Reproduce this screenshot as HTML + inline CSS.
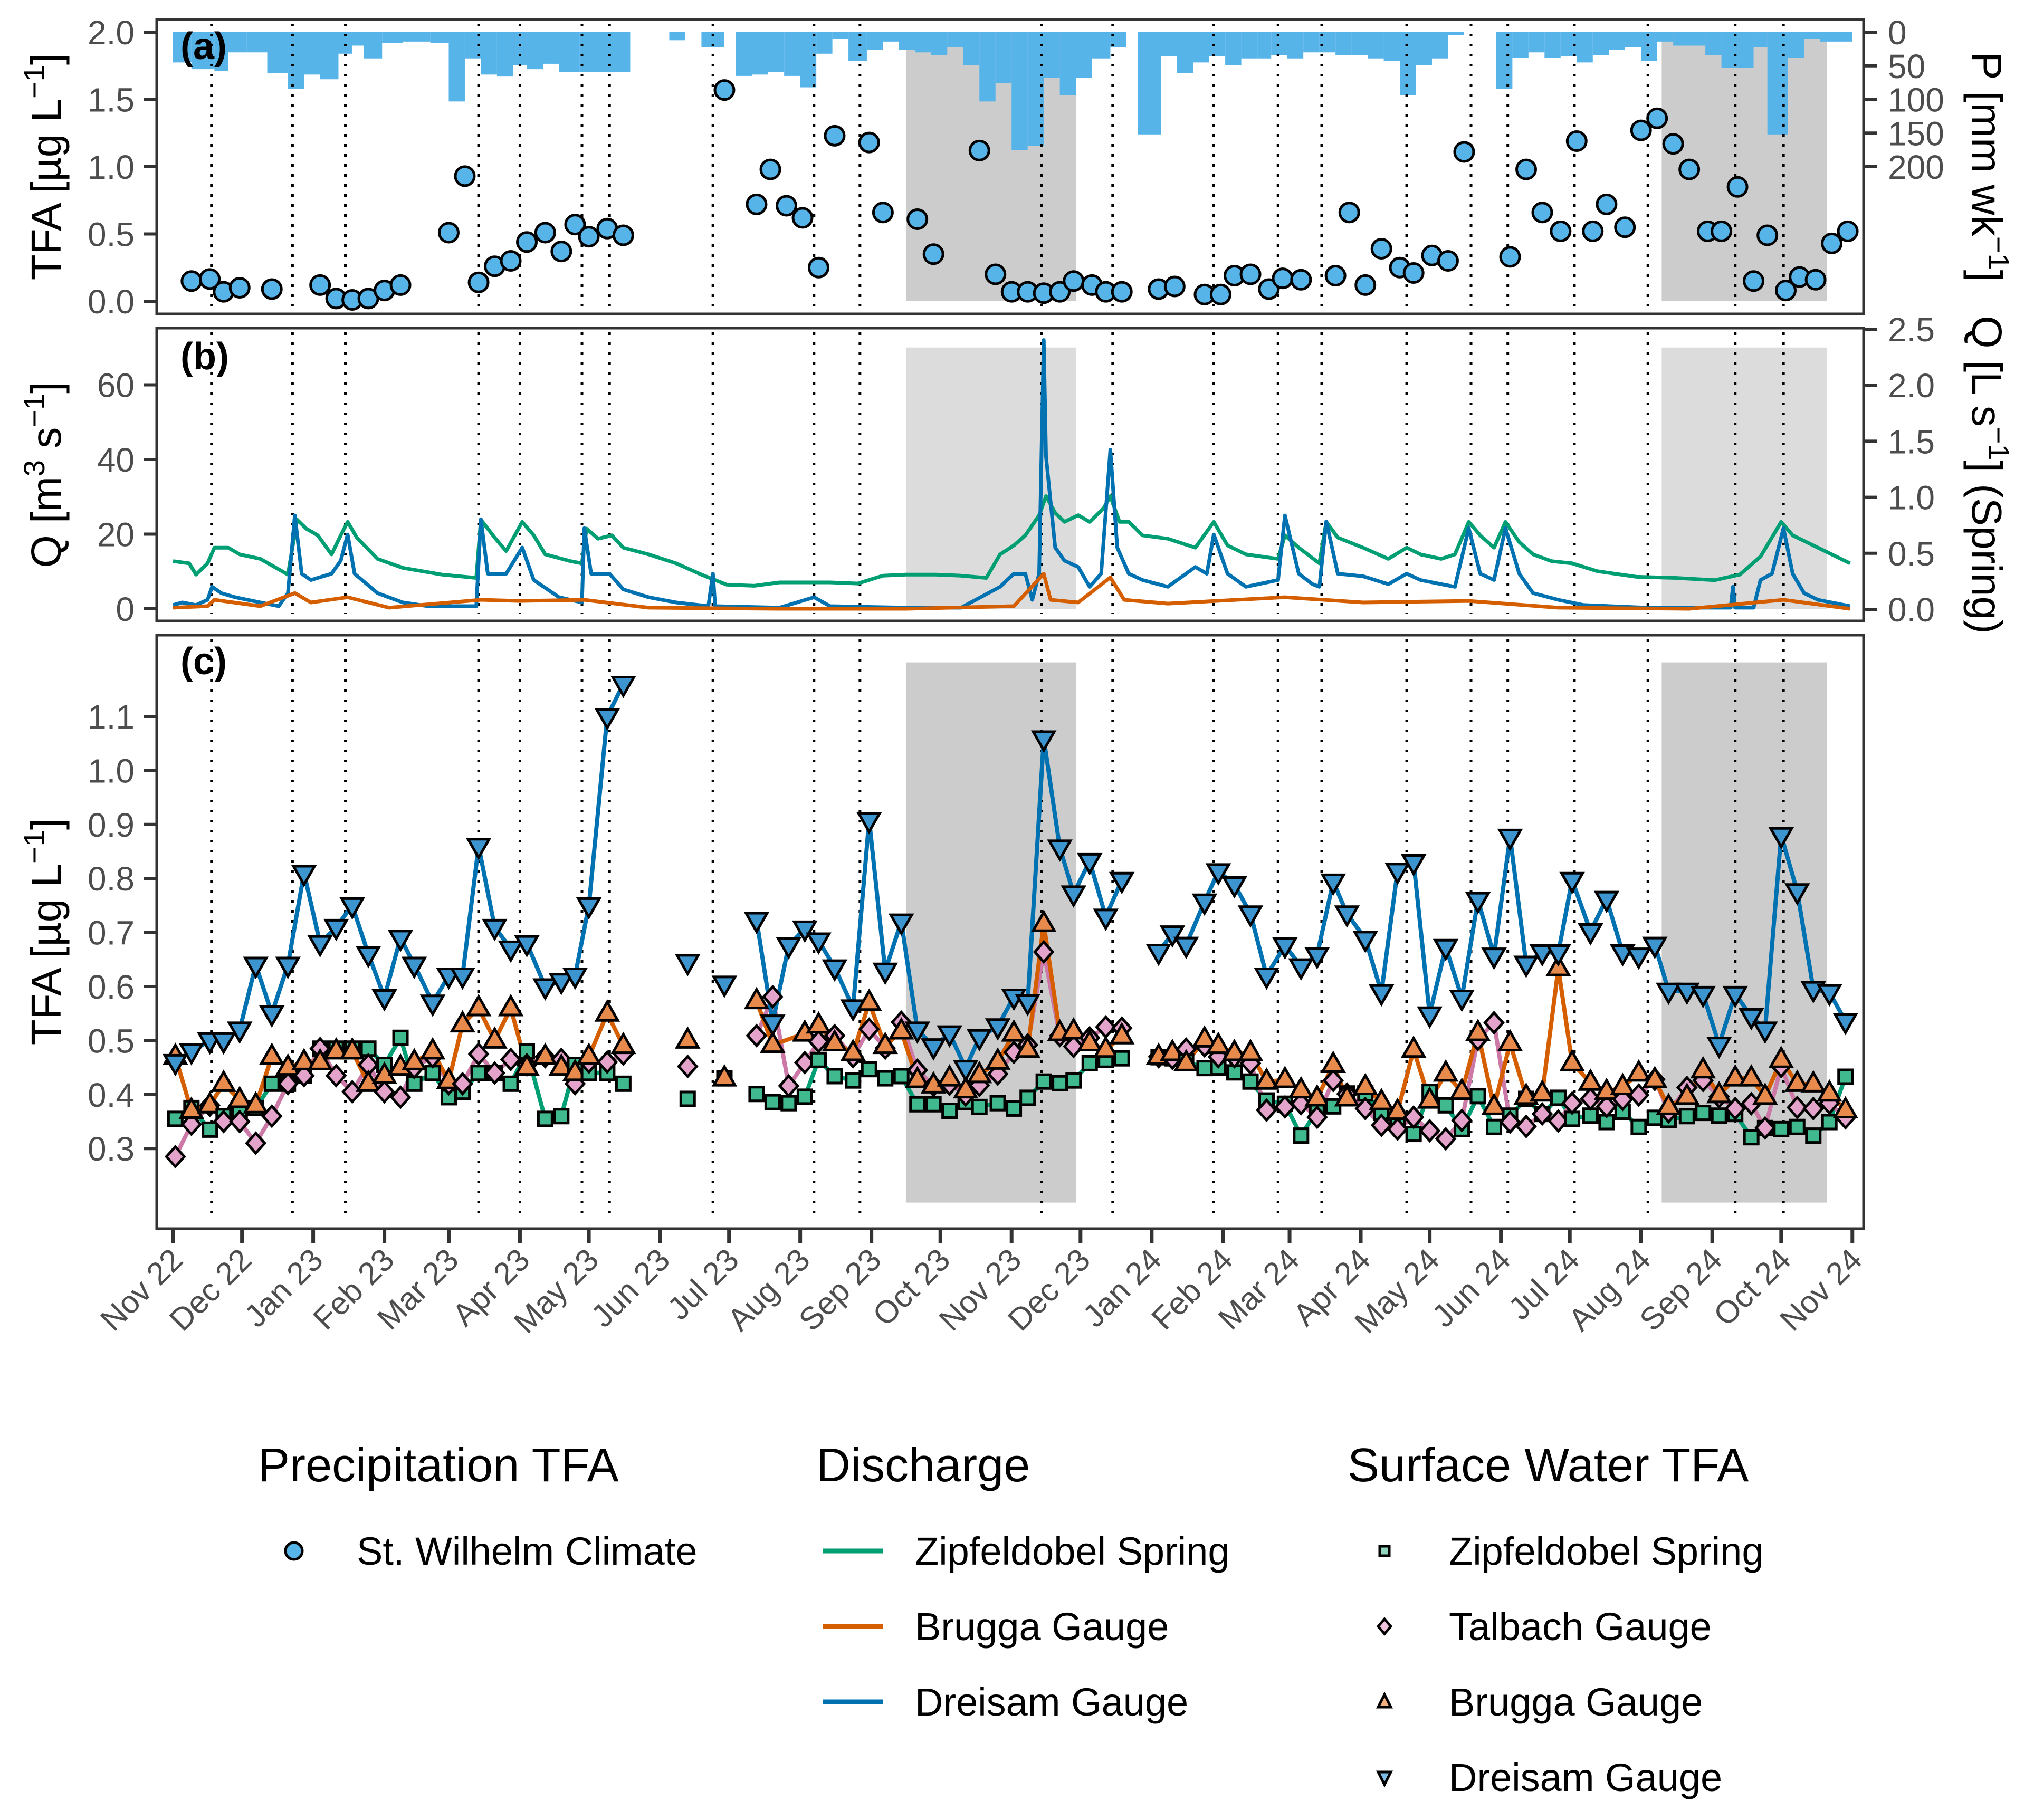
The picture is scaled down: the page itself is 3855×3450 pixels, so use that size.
<!DOCTYPE html>
<html><head><meta charset="utf-8"><style>
html,body{margin:0;padding:0;background:#fff}
svg{display:block;font-family:"Liberation Sans",Arial,sans-serif}
</style></head><body>
<svg id="fig" xmlns="http://www.w3.org/2000/svg" width="3855" height="3450" viewBox="0 0 3855 3450">
<rect x="0" y="0" width="3855" height="3450" fill="#fff"/>
<g id="layer"></g>
<g font-family="Liberation Sans, Arial, sans-serif" fill="#000">
 <text x="489" y="2808" font-size="90">Precipitation TFA</text>
 <circle cx="557" cy="2940" r="16" fill="#56B4E9" stroke="#000" stroke-width="5"/>
 <text x="676" y="2966" font-size="74">St. Wilhelm Climate</text>
 <text x="1547" y="2808" font-size="90">Discharge</text>
 <line x1="1559" x2="1674" y1="2940" y2="2940" stroke="#009E73" stroke-width="9"/>
 <text x="1734" y="2966" font-size="74">Zipfeldobel Spring</text>
 <line x1="1559" x2="1674" y1="3083" y2="3083" stroke="#D55E00" stroke-width="9"/>
 <text x="1734" y="3109" font-size="74">Brugga Gauge</text>
 <line x1="1559" x2="1674" y1="3226" y2="3226" stroke="#0072B2" stroke-width="9"/>
 <text x="1734" y="3252" font-size="74">Dreisam Gauge</text>
 <text x="2554" y="2808" font-size="90">Surface Water TFA</text>
 <rect x="2615" y="2931" width="18" height="18" fill="#8fd6bd" stroke="#000" stroke-width="5"/>
 <text x="2746" y="2966" font-size="74">Zipfeldobel Spring</text>
 <polygon points="2624,3069 2636,3083 2624,3097 2612,3083" fill="#f0c4de" stroke="#000" stroke-width="5"/>
 <text x="2746" y="3109" font-size="74">Talbach Gauge</text>
 <polygon points="2624,3212 2636,3236 2612,3236" fill="#f2b07e" stroke="#000" stroke-width="5"/>
 <text x="2746" y="3252" font-size="74">Brugga Gauge</text>
 <polygon points="2612,3359 2636,3359 2624,3383" fill="#7fbde6" stroke="#000" stroke-width="5"/>
 <text x="2746" y="3395" font-size="74">Dreisam Gauge</text>
</g>
</svg>
<script>
// ---------- data ----------
// day offsets from 2022-11-01
const precipTfaDays = [8,16,22,29,43,64,71,78,85,92,99,120,127,133,140,147,154,162,169,175,181,189,196,240,254,260,267,274,281,288,303,309,324,331,351,358,365,372,379,386,392,400,406,413,429,436,449,456,462,469,477,483,491,506,512,519,526,534,540,548,555,562,582,589,596,604,611,618,624,632,639,646,653,660,668,674,681,688,694,702,708,715,722,729];
const precipTfaValues = [0.15,0.165,0.07,0.10,0.09,0.12,0.02,0.01,0.02,0.08,0.12,0.51,0.93,0.14,0.26,0.30,0.44,0.51,0.37,0.57,0.48,0.54,0.49,1.57,0.72,0.98,0.71,0.62,0.25,1.23,1.18,0.66,0.61,0.35,1.12,0.20,0.07,0.07,0.06,0.07,0.15,0.12,0.07,0.07,0.09,0.11,0.05,0.05,0.19,0.20,0.09,0.17,0.16,0.19,0.66,0.12,0.39,0.25,0.21,0.34,0.30,1.11,0.33,0.98,0.66,0.52,1.19,0.52,0.72,0.55,1.27,1.36,1.17,0.98,0.52,0.52,0.85,0.15,0.49,0.08,0.18,0.16,0.43,0.52];
const precipWeekStart = [0,8,18,24,32,41,50,57,64,72,78,83,91,100,112,120,127,134,141,148,154,161,168,177,185,199,216,223,230,240,245,252,259,266,273,280,287,294,302,309,316,323,330,337,344,351,358,365,372,379,386,393,400,408,415,420,430,437,444,451,458,465,472,478,485,492,499,506,513,520,527,534,541,548,555,562,576,583,590,597,604,611,618,625,632,639,646,653,660,667,674,681,688,694,703,710,717,731];
const precipMM = [45,55,58,30,30,61,84,63,70,32,20,39,16,14,16,103,39,63,66,49,55,47,59,59,59,null,12,null,22,null,65,63,59,65,82,32,10,43,26,14,26,30,34,22,49,103,76,175,169,68,94,68,39,22,null,152,36,61,45,36,49,39,39,34,39,30,30,34,34,39,43,94,49,39,4,null,84,38,30,38,36,45,34,26,22,43,14,20,20,34,53,53,22,152,38,10,14,null];
const shadePeriods = [[319,393],[648,720]];
const eventDays = [16.7,52,75,133,151,178,190,235,279,299,378,409,453,481,500,537,565,581,610,642,680,701];

const springDays = [0,7,10,15,18,24,29,38,50,54,58,63,69,73,76,80,89,100,117,132,134,140,145,152,157,162,173,178,180,185,191,196,207,219,230,241,253,264,286,298,309,319,332,343,354,360,366,371,377,380,384,388,394,399,405,408,412,416,422,433,445,453,459,467,481,484,490,499,502,507,518,529,537,543,552,558,564,569,575,580,586,592,600,609,620,637,654,671,682,691,700,705,716,730];
const springQ = [0.43,0.41,0.31,0.41,0.55,0.55,0.49,0.45,0.31,0.80,0.72,0.66,0.49,0.66,0.78,0.64,0.45,0.37,0.31,0.28,0.80,0.64,0.52,0.78,0.66,0.49,0.43,0.41,0.72,0.63,0.66,0.55,0.49,0.41,0.31,0.22,0.21,0.24,0.24,0.23,0.30,0.31,0.31,0.30,0.28,0.49,0.57,0.66,0.84,1.01,0.86,0.78,0.84,0.78,0.90,1.01,0.78,0.78,0.66,0.63,0.55,0.78,0.57,0.49,0.45,0.66,0.55,0.41,0.78,0.64,0.55,0.45,0.55,0.49,0.45,0.49,0.78,0.66,0.55,0.78,0.60,0.49,0.43,0.41,0.34,0.29,0.28,0.26,0.31,0.47,0.78,0.66,0.55,0.41];
const dreisamQDays = [0,4,10,15,17,21,27,38,46,50,53,56,60,69,73,76,79,89,100,111,123,132,134,137,145,152,157,168,178,179,182,190,196,207,219,233,235,236,264,279,286,319,343,360,366,371,374,377,379,380,384,388,394,399,404,408,411,416,422,433,445,450,453,459,467,481,484,490,496,499,502,507,518,529,537,543,552,558,564,569,575,580,586,592,603,614,641,671,678,679,680,688,691,696,701,705,710,716,730];
const dreisamQ = [1.0,1.7,1.0,2.4,5.9,4.2,3.1,1.7,0.7,4.2,25,9.4,7.7,9.4,12.9,19.9,9.4,4.2,1.7,0.7,0.7,0.7,24,9.4,9.4,16.4,7.7,3.1,1.7,21.6,9.4,9.4,5.2,3.1,1.7,0.7,9.4,0.7,0.3,3.1,0.7,0.3,0.3,5.9,9.4,9.4,2.4,9.4,72,40.8,16.4,12.9,11.2,5.9,9.4,42.6,16.4,9.4,7.7,5.9,11.2,9.4,19.9,9.4,5.9,7.7,25,9.4,6.6,5.9,23.4,9.4,8.7,6.6,9.4,7.7,6.6,5.9,21.6,9.4,7.7,21.6,9.4,4.2,2.4,1.0,0.3,0.3,0.3,5.9,0.3,0.3,7.7,9.4,21.6,9.4,4.2,2.4,0.7];
const bruggaQDays = [0,15,18,38,53,60,76,94,134,151,179,207,264,319,366,379,382,394,408,414,433,484,518,564,603,660,701,730];
const bruggaQ = [0.3,0.7,2.4,0.7,4.2,1.7,3.1,0.3,2.4,2.1,2.4,0.3,0,0,0.7,9.4,2.4,1.7,8.4,2.4,1.4,3.1,1.7,2.1,0.3,0,2.4,0];

const sampleDays = [1,8,16,22,29,36,43,50,57,64,71,78,85,92,99,105,113,120,126,133,140,147,154,162,169,175,181,189,196,
 224,240,
 254,261,268,275,281,288,296,303,310,317,324,331,338,345,351,359,366,372,379,386,392,399,406,413,
 429,435,441,449,455,462,469,476,484,491,498,505,511,519,526,533,540,547,554,561,568,575,582,589,596,603,609,617,624,631,638,645,651,659,666,673,680,687,693,700,707,714,721,728];
const segmentBreaks = [200,230,245,420];
const dreisamTfa = [0.46,0.48,0.50,0.50,0.52,0.64,0.55,0.64,0.81,0.68,0.71,0.75,0.66,0.58,0.69,0.64,0.57,0.62,0.62,0.86,0.71,0.67,0.68,0.60,0.61,0.62,0.75,1.10,1.16,
 0.645,0.605,
 0.723,0.533,0.676,0.707,0.685,0.635,0.561,0.908,0.629,0.72,0.52,0.489,0.513,0.449,0.506,0.526,0.581,0.571,1.059,0.857,0.772,0.832,0.729,0.797,
 0.664,0.698,0.677,0.757,0.813,0.789,0.735,0.62,0.676,0.637,0.658,0.794,0.735,0.688,0.589,0.814,0.830,0.548,0.673,0.579,0.760,0.657,0.877,0.642,0.663,0.663,0.797,0.702,0.762,0.663,0.657,0.677,0.592,0.592,0.586,0.492,0.586,0.545,0.520,0.880,0.776,0.595,0.589,0.536];
const bruggaTfa = [0.47,0.37,0.38,0.42,0.39,0.38,0.47,0.45,0.46,0.46,0.48,0.48,0.42,0.435,0.45,0.46,0.48,0.425,0.53,0.56,0.50,0.56,0.45,0.47,0.45,0.44,0.47,0.55,0.49,
 0.50,0.43,
 0.573,0.492,null,0.513,0.528,0.495,0.477,0.57,0.49,0.517,0.427,0.417,0.43,0.408,0.436,0.461,0.513,0.483,0.716,0.514,0.517,0.495,0.483,0.508,
 0.47,0.477,0.458,0.502,0.49,0.477,0.477,0.424,0.427,0.408,0.393,0.455,0.393,0.414,0.386,0.368,0.483,0.389,0.439,0.405,0.514,0.377,0.495,0.396,0.402,0.634,0.458,0.422,0.405,0.414,0.439,0.427,0.377,0.396,0.445,0.399,0.430,0.430,0.396,0.464,0.420,0.419,0.402,0.371];
const talbachTfa = [0.285,0.345,0.38,0.35,0.35,0.31,0.36,0.42,0.435,0.485,0.435,0.405,0.455,0.405,0.395,0.45,0.47,0.42,0.42,0.475,0.44,0.465,0.455,0.47,0.465,0.42,0.46,0.46,0.475,
 0.452,null,
 0.509,0.581,0.416,0.459,0.498,0.509,0.47,0.521,0.486,0.534,0.445,0.417,0.419,0.399,0.417,0.438,0.478,0.492,0.664,0.509,0.489,0.505,0.525,0.523,
 0.47,0.467,0.484,0.49,0.47,0.47,0.458,0.371,0.377,0.383,0.358,0.426,0.401,0.374,0.343,0.336,0.358,0.333,0.318,0.352,0.502,0.533,0.349,0.341,0.364,0.351,0.384,0.392,0.378,0.391,0.399,0.428,0.368,0.413,0.426,0.396,0.374,0.383,0.338,0.452,0.376,0.374,0.384,0.357];
const zipfTfa = [0.355,0.375,0.335,0.36,0.37,0.375,0.42,0.42,0.435,0.485,0.485,0.485,0.485,0.455,0.505,0.42,0.44,0.395,0.405,0.44,0.44,0.42,0.48,0.355,0.36,0.455,0.44,0.44,0.42,
 0.392,0.43,
 0.401,0.386,0.384,0.396,0.464,0.434,0.426,0.447,0.43,0.434,0.382,0.382,0.37,0.386,0.377,0.384,0.374,0.394,0.424,0.421,0.426,0.458,0.464,0.467,
 0.469,0.467,0.461,0.449,0.45,0.441,0.424,0.389,0.383,0.324,0.371,0.378,0.402,0.402,0.366,0.347,0.327,0.405,0.380,0.336,0.397,0.340,0.361,0.392,0.364,0.394,0.355,0.361,0.349,0.368,0.340,0.357,0.353,0.36,0.366,0.361,0.364,0.321,0.338,0.336,0.340,0.324,0.349,0.433];

const tfaTicksA = [0,0.5,1.0,1.5,2.0];
const pTicks = [0,50,100,150,200];
const qTicks = [0,20,40,60];
const springTicks = [0,0.5,1.0,1.5,2.0,2.5];
const tfaTicksC = [0.3,0.4,0.5,0.6,0.7,0.8,0.9,1.0,1.1];
const monthNames = ["Jan","Feb","Mar","Apr","May","Jun","Jul","Aug","Sep","Oct","Nov","Dec"];

// ---------- scales ----------
const L = 297, R = 3532;
const X = d => 328 + d * 4.354;
const YA = v => 571 - v * 255;
const YP = mm => 61 + mm * 1.275;
const YB = q => 1154 - q * 7.075;
const YS = s => 1155 - s * 212.4;
const YC = v => 1358 + (1.1 - v) * 1024;
const panels = [{top:37,bot:595},{top:622,bot:1177},{top:1204,bot:2329}];

const NS = "http://www.w3.org/2000/svg";
const layer = document.getElementById('layer');
function mk(tag, attrs, parent) {
  const e = document.createElementNS(NS, tag);
  for (const k in attrs) e.setAttribute(k, attrs[k]);
  (parent || layer).appendChild(e);
  return e;
}
function fmt1(v){return v.toFixed(1);}

// shading
shadePeriods.forEach(p => {
  const a = mk('rect', {x:X(p[0]), y:YA(2.0), width:X(p[1])-X(p[0]), height:YA(0)-YA(2.0), fill:'#cccccc'});
  
  
  const b = mk('rect', {x:X(p[0]), y:YB(70), width:X(p[1])-X(p[0]), height:YB(0)-YB(70), fill:'#dcdcdc'});
  
  
  const c = mk('rect', {x:X(p[0]), y:YC(1.2), width:X(p[1])-X(p[0]), height:YC(0.2)-YC(1.2), fill:'#cccccc'});
  
  
});

// precipitation bars
for (let i = 0; i < precipMM.length - 1; i++) {
  if (precipMM[i] === null) continue;
  const bar = mk('rect', {x:X(precipWeekStart[i]), y:YP(0), width:X(precipWeekStart[i+1])-X(precipWeekStart[i]), height:precipMM[i]*1.275, fill:'#56B4E9'});
  
  
}

// event dotted lines
eventDays.forEach(d => {
  panels.forEach(p => {
    const ln = mk('line', {x1:X(d), x2:X(d), y1:p.top+8, y2:p.bot-14, stroke:'#000', 'stroke-width':5, 'stroke-dasharray':'5 14'});
    
    
  });
});

// panel a points
precipTfaDays.forEach((d, i) => {
  const c = mk('circle', {cx:X(d), cy:YA(precipTfaValues[i]), r:18, fill:'#56B4E9', stroke:'#000', 'stroke-width':5});
  
  
});

// panel b lines
function pathFrom(days, vals, yf) {
  let s = '';
  days.forEach((d, i) => { s += (i ? 'L' : 'M') + X(d).toFixed(1) + ' ' + yf(vals[i]).toFixed(1); });
  return s;
}
const gSp = mk('path', {d:pathFrom(springDays, springQ, YS), fill:'none', stroke:'#009E73', 'stroke-width':7, 'stroke-linejoin':'round'});


const gDr = mk('path', {d:pathFrom(dreisamQDays, dreisamQ, YB), fill:'none', stroke:'#0072B2', 'stroke-width':7, 'stroke-linejoin':'round'});


const gBr = mk('path', {d:pathFrom(bruggaQDays, bruggaQ, YB), fill:'none', stroke:'#D55E00', 'stroke-width':7, 'stroke-linejoin':'round'});



// panel c lines
function segId(d){let s=0;segmentBreaks.forEach(b=>{if(d>b)s++;});return s;}
function tfaPath(vals) {
  let s = '', prevSeg = -1;
  sampleDays.forEach((d, i) => {
    const v = vals[i];
    if (v === null) return;
    const sg = segId(d);
    s += ((sg !== prevSeg) ? 'M' : 'L') + X(d).toFixed(1) + ' ' + YC(v).toFixed(1);
    prevSeg = sg;
  });
  return s;
}
const lineZ = mk('path', {d:tfaPath(zipfTfa), fill:'none', stroke:'#009E73', 'stroke-width':8, 'stroke-linejoin':'round'});


const lineT = mk('path', {d:tfaPath(talbachTfa), fill:'none', stroke:'#CC79A7', 'stroke-width':8, 'stroke-linejoin':'round'});


const lineB = mk('path', {d:tfaPath(bruggaTfa), fill:'none', stroke:'#D55E00', 'stroke-width':8, 'stroke-linejoin':'round'});


const lineD = mk('path', {d:tfaPath(dreisamTfa), fill:'none', stroke:'#0072B2', 'stroke-width':8, 'stroke-linejoin':'round'});



// markers
sampleDays.forEach((d, i) => {
  const x = X(d);
  if (zipfTfa[i] !== null) {
    const y = YC(zipfTfa[i]);
    const m = mk('rect', {x:x-13, y:y-13, width:26, height:26, fill:'#3fb98d', stroke:'#000', 'stroke-width':5});
    
    
  }
  if (talbachTfa[i] !== null) {
    const y = YC(talbachTfa[i]);
    const m = mk('polygon', {points:`${x},${y-19} ${x+17},${y} ${x},${y+19} ${x-17},${y}`, fill:'#e3a3cb', stroke:'#000', 'stroke-width':5});
    
    
  }
  if (bruggaTfa[i] !== null) {
    const y = YC(bruggaTfa[i]);
    const m = mk('polygon', {points:`${x},${y-22} ${x+20},${y+13} ${x-20},${y+13}`, fill:'#e88a4c', stroke:'#000', 'stroke-width':5});
    
    
  }
  if (dreisamTfa[i] !== null) {
    const y = YC(dreisamTfa[i]);
    const m = mk('polygon', {points:`${x-20},${y-13} ${x+20},${y-13} ${x},${y+22}`, fill:'#3d95cf', stroke:'#000', 'stroke-width':5});
    
    
  }
});

// panel borders
panels.forEach((p, i) => {
  const r = mk('rect', {x:L, y:p.top, width:R-L, height:p.bot-p.top, fill:'none', stroke:'#333', 'stroke-width':5});
  
  
});

// ticks
function yTick(y, label, side) {
  const x1 = side === 'L' ? L - 25 : R, x2 = side === 'L' ? L : R + 25;
  const t = mk('line', {x1:x1, x2:x2, y1:y, y2:y, stroke:'#333', 'stroke-width':6});
  
  
  const tx = mk('text', {x: side === 'L' ? 255 : 3578, y:y+23, 'font-size':64, fill:'#4d4d4d', 'text-anchor': side === 'L' ? 'end' : 'start'});
  tx.textContent = label;
  
  
}
tfaTicksA.forEach(v => yTick(YA(v), fmt1(v), 'L'));
pTicks.forEach(v => yTick(YP(v), String(v), 'R'));
qTicks.forEach(v => yTick(YB(v), String(v), 'L'));
springTicks.forEach(v => yTick(YS(v), fmt1(v), 'R'));
tfaTicksC.forEach(v => yTick(YC(v), fmt1(v), 'L'));

// x ticks
const base = Date.UTC(2022, 10, 1);
for (let i = 0; i <= 24; i++) {
  const dt = new Date(Date.UTC(2022, 10 + i, 1));
  const d = (dt.getTime() - base) / 86400000;
  const x = X(d);
  const t = mk('line', {x1:x, x2:x, y1:2329, y2:2356, stroke:'#333', 'stroke-width':7});
  
  
  const lbl = monthNames[dt.getUTCMonth()] + ' ' + String(dt.getUTCFullYear()).slice(2);
  const tx = mk('text', {x:0, y:0, 'font-size':60, fill:'#4d4d4d', 'text-anchor':'end', transform:`translate(${x+22},${2392}) rotate(-45)`});
  tx.textContent = lbl;
  
  
}

// panel labels
[['(a)',342,112],['(b)',342,700],['(c)',342,1278]].forEach(l => {
  const t = mk('text', {x:l[1], y:l[2], 'font-size':72, 'font-weight':'bold', fill:'#000'});
  t.textContent = l[0];
  
  
});

// axis titles
function vTitle(cx, cy, rot, parts, name) {
  const t = mk('text', {x:0, y:0, 'font-size':80, fill:'#000', 'text-anchor':'middle', transform:`translate(${cx},${cy}) rotate(${rot})`});
  parts.forEach(p => {
    const s = document.createElementNS(NS, 'tspan');
    s.textContent = p[0];
    if (p[1]) { s.setAttribute('baseline-shift', 'super'); s.setAttribute('font-size', '56'); }
    t.appendChild(s);
  });
  
  
}
vTitle(115, 316, -90, [['TFA [µg L'],['−1',1],[']']], 'y-axis-title-a');
vTitle(115, 900, -90, [['Q [m'],['3',1],[' s'],['−1',1],[']']], 'y-axis-title-b');
vTitle(115, 1766, -90, [['TFA [µg L'],['−1',1],[']']], 'y-axis-title-c');
vTitle(3738, 316, 90, [['P [mm wk'],['−1',1],[']']], 'y-axis-title-precip');
vTitle(3738, 900, 90, [['Q [L s'],['−1',1],['] (Spring)']], 'y-axis-title-spring');
</script>
</body></html>
